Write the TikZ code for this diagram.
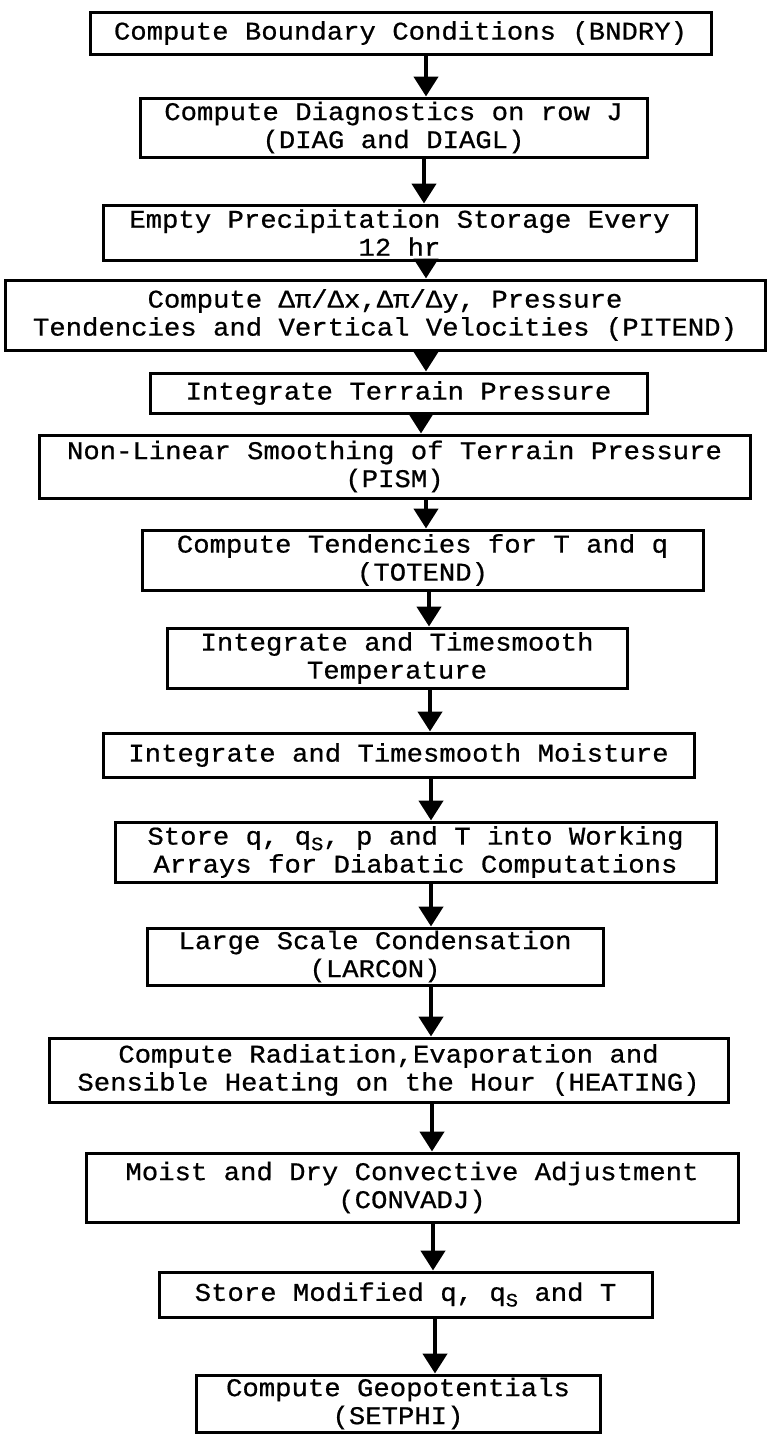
\documentclass[tikz,border=0pt]{standalone}
\usepackage{fontspec}
\newfontfamily\typewriter{Liberation Mono}[FakeBold=0.7, FakeStretch=1.07]
\usetikzlibrary{arrows.meta}

% small subscript S, set slightly below the line as a typewriter would
\newcommand\smallS{\raisebox{-0.22em}{\fontsize{19}{19}\selectfont S}}

\tikzset{
  stepbox/.style={draw, rectangle, line width=3pt, inner sep=0pt, align=center,
    font=\typewriter\fontsize{25.5}{28}\selectfont},
  flow/.style={line width=4.5pt, -{Triangle[width=24pt,length=20pt]}}
}

\begin{document}
\begin{tikzpicture}[x=1pt, y=-1pt]
\path[use as bounding box] (0,0) rectangle (768,1436);

% process steps, top to bottom
\node[stepbox, minimum width=621, minimum height=42] (b1) at (400.5,33)
  {Compute Boundary Conditions (BNDRY)};
\node[stepbox, minimum width=507, minimum height=59] (b2) at (393.5,127.5)
  {Compute Diagnostics on row J\\(DIAG and DIAGL)};
\node[stepbox, minimum width=593, minimum height=55] (b3) at (399.5,232.5)
  {Empty Precipitation Storage Every\\12 hr};
\node[stepbox, minimum width=760, minimum height=70] (b4) at (385,315)
  {Compute Δπ/Δx,Δπ/Δy, Pressure\\Tendencies and Vertical Velocities (PITEND)};
\node[stepbox, minimum width=497, minimum height=40] (b5) at (398.5,393)
  {Integrate Terrain Pressure};
\node[stepbox, minimum width=711, minimum height=63] (b6) at (394.5,466.5)
  {Non-Linear Smoothing of Terrain Pressure\\(PISM)};
\node[stepbox, minimum width=561, minimum height=60] (b7) at (422.5,560)
  {Compute Tendencies for T and q\\(TOTEND)};
\node[stepbox, minimum width=460, minimum height=60] (b8) at (397,658)
  {Integrate and Timesmooth\\Temperature};
\node[stepbox, minimum width=591, minimum height=44] (b9) at (398.5,755)
  {Integrate and Timesmooth Moisture};
\node[stepbox, minimum width=601, minimum height=60] (b10) at (415.5,852)
  {Store q, q\smallS, p and T into Working\\Arrays for Diabatic Computations};
\node[stepbox, minimum width=456, minimum height=57] (b11) at (375,956.5)
  {Large Scale Condensation\\(LARCON)};
\node[stepbox, minimum width=679, minimum height=64] (b12) at (388.5,1070)
  {Compute Radiation,Evaporation and\\Sensible Heating on the Hour (HEATING)};
\node[stepbox, minimum width=652, minimum height=69] (b13) at (412,1187.5)
  {Moist and Dry Convective Adjustment\\(CONVADJ)};
\node[stepbox, minimum width=493, minimum height=45] (b14) at (405.5,1294.5)
  {Store Modified q, q\smallS{} and T};
\node[stepbox, minimum width=404, minimum height=57] (b15) at (398,1403.5)
  {Compute Geopotentials\\(SETPHI)};

% x positions of the connecting arrows
\coordinate (c1) at (426,0);
\coordinate (c2) at (424,0);
\coordinate (c3) at (426,0);
\coordinate (c4) at (426,0);
\coordinate (c5) at (421,0);
\coordinate (c6) at (426,0);
\coordinate (c7) at (429,0);
\coordinate (c8) at (430,0);
\coordinate (c9) at (431,0);
\coordinate (c10) at (431,0);
\coordinate (c11) at (431,0);
\coordinate (c12) at (432,0);
\coordinate (c13) at (433,0);
\coordinate (c14) at (435,0);

\draw[flow] (b1.south -| c1) -- (b2.north -| c1);
\draw[flow] (b2.south -| c2) -- (b3.north -| c2);
\draw[flow] (b3.south -| c3) -- (b4.north -| c3);
\draw[flow] (b4.south -| c4) -- (b5.north -| c4);
\draw[flow] (b5.south -| c5) -- (b6.north -| c5);
\draw[flow] (b6.south -| c6) -- (b7.north -| c6);
\draw[flow] (b7.south -| c7) -- (b8.north -| c7);
\draw[flow] (b8.south -| c8) -- (b9.north -| c8);
\draw[flow] (b9.south -| c9) -- (b10.north -| c9);
\draw[flow] (b10.south -| c10) -- (b11.north -| c10);
\draw[flow] (b11.south -| c11) -- (b12.north -| c11);
\draw[flow] (b12.south -| c12) -- (b13.north -| c12);
\draw[flow] (b13.south -| c13) -- (b14.north -| c13);
\draw[flow] (b14.south -| c14) -- (b15.north -| c14);
\end{tikzpicture}
\end{document}
